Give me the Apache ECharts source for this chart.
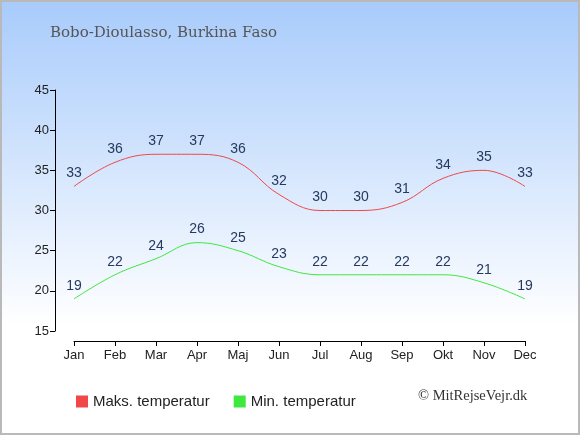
<!DOCTYPE html>
<html>
<head>
<meta charset="utf-8">
<script src="https://cdn.jsdelivr.net/npm/echarts@6/dist/echarts.min.js"></script>
<style>
  html, body { margin: 0; padding: 0; }
  #wrap { position: relative; width: 580px; height: 435px; }
  #chart { width: 580px; height: 435px; }
  #frame { position: absolute; left: 0; top: 0; width: 580px; height: 435px;
           box-sizing: border-box; border: 2px solid #b9b9b9; pointer-events: none; }
</style>
</head>
<body>
<div id="wrap">
  <div id="chart"></div>
  <div id="frame"></div>
</div>
<script>
var months = ['Jan', 'Feb', 'Mar', 'Apr', 'Maj', 'Jun', 'Jul', 'Aug', 'Sep', 'Okt', 'Nov', 'Dec'];
var max_temp = [33, 36, 37, 37, 36, 32, 30, 30, 31, 34, 35, 33];
var min_temp = [19, 22, 24, 26, 25, 23, 22, 22, 22, 22, 21, 19];

var myChart = echarts.init(document.getElementById('chart'));

var label_style = {
    show: true,
    position: 'top',
    distance: 6,
    color: '#243a5e',
    fontSize: 14,
    fontFamily: 'Liberation Sans'
};

option = {
    animation: false,
    backgroundColor: new echarts.graphic.LinearGradient(0, 0, 0, 1, [
        {offset: 0, color: '#a8cbfb'},
        {offset: 0.75, color: '#ffffff'},
        {offset: 1, color: '#ffffff'}
    ]),
    title: {
        text: 'Bobo-Dioulasso, Burkina Faso',
        left: 45,
        top: 21,
        textStyle: {
            fontFamily: 'DejaVu Serif',
            fontWeight: 'normal',
            fontSize: 15,
            color: '#555555'
        }
    },
    legend: {
        left: 71,
        top: 389,
        itemWidth: 12,
        itemHeight: 12,
        itemGap: 24,
        icon: 'rect',
        textStyle: {fontFamily: 'Liberation Sans', fontSize: 15, color: '#222222'},
        data: ['Maks. temperatur', 'Min. temperatur']
    },
    graphic: [
        {
            type: 'text',
            left: 418,
            top: 389,
            style: {
                text: '© MitRejseVejr.dk',
                font: '14.5px "Liberation Serif"',
                fill: '#333333'
            }
        }
    ],
    grid: {left: 74, right: 55, top: 90, bottom: 104},
    xAxis: {
        type: 'category',
        boundaryGap: false,
        offset: 10,
        data: months,
        axisLine: {lineStyle: {color: '#000000', width: 1}},
        axisTick: {length: 5, inside: false},
        axisLabel: {color: '#222222', fontFamily: 'Liberation Sans', fontSize: 13, margin: 8},
        splitLine: {show: false}
    },
    yAxis: {
        type: 'value',
        min: 15,
        max: 45,
        interval: 5,
        offset: 19,
        axisLine: {show: true, lineStyle: {color: '#000000', width: 1}},
        axisTick: {show: true, length: 5},
        axisLabel: {color: '#222222', fontFamily: 'Liberation Sans', fontSize: 13, margin: 6},
        splitLine: {show: false}
    },
    series: [
        {
            name: 'Maks. temperatur',
            type: 'line',
            smooth: 0.4,
            symbol: 'circle',
            symbolSize: 0,
            color: '#f04848',
            lineStyle: {width: 1, color: '#f04848'},
            label: label_style,
            data: max_temp
        },
        {
            name: 'Min. temperatur',
            type: 'line',
            smooth: 0.4,
            symbol: 'circle',
            symbolSize: 0,
            color: '#3ee83e',
            lineStyle: {width: 1, color: '#3ee83e'},
            label: label_style,
            data: min_temp
        }
    ]
};

myChart.setOption(option);
</script>
</body>
</html>
